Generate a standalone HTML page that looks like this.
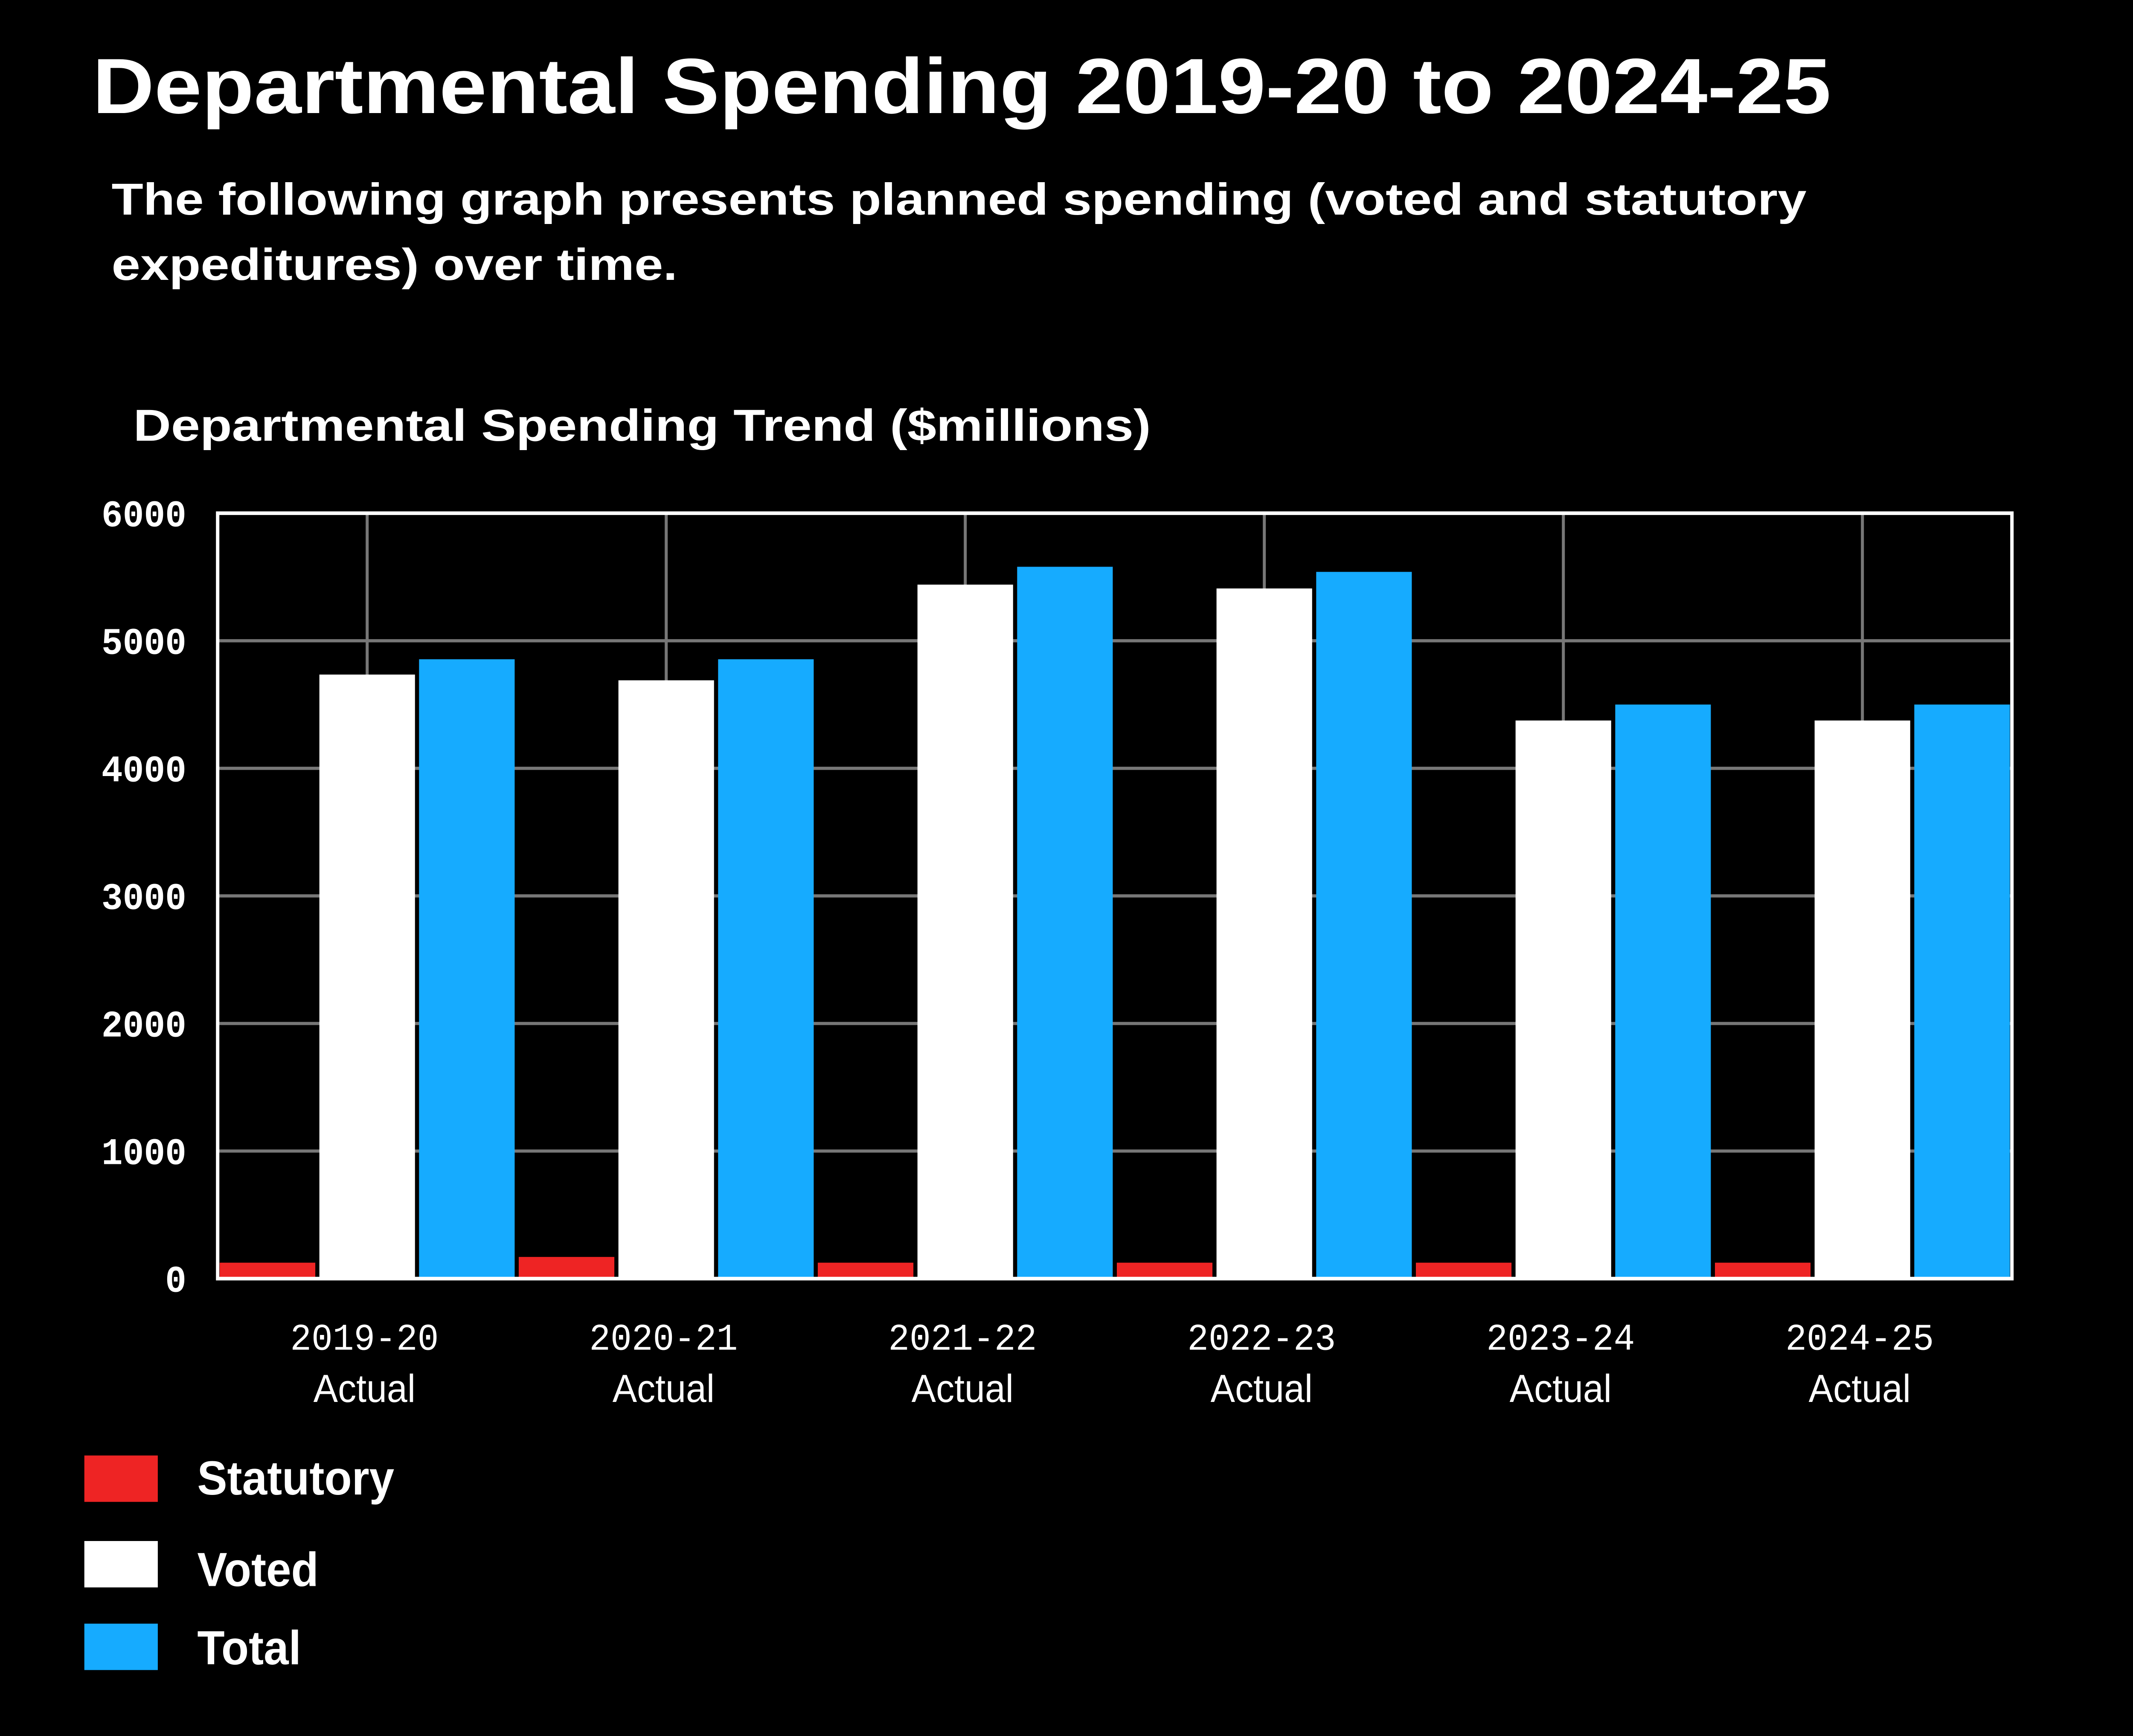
<!DOCTYPE html>
<html><head><meta charset="utf-8"><style>
html,body{margin:0;padding:0;background:#000;width:100%;height:100%;overflow:hidden;}
svg{display:block;position:absolute;left:0;top:0;width:100vw;height:100vh;}
text{font-family:"Liberation Sans",sans-serif;fill:#fff;}
.mono{font-family:"Liberation Mono",monospace;}
</style></head><body>
<svg id="chart" viewBox="0 0 1568 1197.5" preserveAspectRatio="none" xmlns="http://www.w3.org/2000/svg">
<rect x="0" y="0" width="1568" height="1197.5" fill="#000"/>
<text x="68" y="78" font-size="54" font-weight="bold" textLength="1278" lengthAdjust="spacingAndGlyphs">Departmental Spending 2019-20 to 2024-25</text>
<text x="82" y="148" font-size="31" font-weight="bold" textLength="1246" lengthAdjust="spacingAndGlyphs">The following graph presents planned spending (voted and statutory</text>
<text x="82" y="193" font-size="31" font-weight="bold" textLength="416" lengthAdjust="spacingAndGlyphs">expeditures) over time.</text>
<text x="98" y="304" font-size="31" font-weight="bold" textLength="748" lengthAdjust="spacingAndGlyphs">Departmental Spending Trend ($millions)</text>
<g id="grid"></g>
<g id="bars"></g>
<g id="axes"></g>
<g>
<rect x="62" y="1004" width="54" height="32" fill="#ee2424"/>
<text x="145" y="1031" font-size="33" font-weight="bold">Statutory</text>
<rect x="62" y="1063" width="54" height="32" fill="#ffffff"/>
<text x="145" y="1094" font-size="33" font-weight="bold">Voted</text>
<rect x="62" y="1120" width="54" height="32" fill="#16abff"/>
<text x="145" y="1148" font-size="33" font-weight="bold">Total</text>
</g>
</svg>
<script>
const categories = ["2019-20", "2020-21", "2021-22", "2022-23", "2023-24", "2024-25"];
const categorySub = ["Actual", "Actual", "Actual", "Actual", "Actual", "Actual"];
const statutory = [125, 170, 125, 125, 125, 125];
const voted = [4735, 4690, 5440, 5410, 4375, 4375];
const total = [4855, 4855, 5580, 5540, 4500, 4500];
const yTicks = [0, 1000, 2000, 3000, 4000, 5000, 6000];

const NS = "http://www.w3.org/2000/svg";
const L = 160, R = 1479, T = 354, B = 882, yMax = 6000;
const band = (R - L) / categories.length;
function y(v){ return B - (v / yMax) * (B - T); }
function bx(i){ return L + i * band; }
function mk(tag, attrs, parent){ const e = document.createElementNS(NS, tag); for (const k in attrs) e.setAttribute(k, attrs[k]); parent.appendChild(e); return e; }
const grid = document.getElementById('grid'), bars = document.getElementById('bars'), axes = document.getElementById('axes');

yTicks.forEach(t => {
  if (t > 0 && t < yMax) {
    const g = mk('line', {x1: L, x2: R, y1: y(t), y2: y(t), stroke: '#777', 'stroke-width': 2.2}, grid);
    
    
  }
  const tx = mk('text', {x: 137, y: y(t) + 9, 'font-size': 26, 'font-weight': 'bold', 'text-anchor': 'end', class: 'mono'}, axes);
  tx.textContent = t;
  
  
});

const series = [[statutory, '#ee2424', 'statutory'], [voted, '#ffffff', 'voted'], [total, '#16abff', 'total']];
categories.forEach((c, i) => {
  const cx = bx(i) + band / 2;
  const gl = mk('line', {x1: cx, x2: cx, y1: T, y2: B, stroke: '#777', 'stroke-width': 2.2}, grid);
  
  
  const w = band / 3;
  series.forEach((s, j) => {
    const v = s[0][i];
    const r = mk('rect', {x: bx(i) + j * w + 1.5, y: y(v), width: w - 3, height: B - y(v), fill: s[1]}, bars);
    
    
  });
  const t1 = mk('text', {x: cx - 2, y: 931, 'font-size': 26, 'text-anchor': 'middle', class: 'mono'}, axes);
  t1.textContent = c;
  
  
  const t2 = mk('text', {x: cx - 2, y: 967, 'font-size': 27, 'text-anchor': 'middle'}, axes);
  t2.textContent = categorySub[i];
  
  
});
const frame = mk('rect', {x: L, y: T, width: R - L, height: B - T, fill: 'none', stroke: '#fff', 'stroke-width': 2.5}, axes);


</script>
</body></html>
